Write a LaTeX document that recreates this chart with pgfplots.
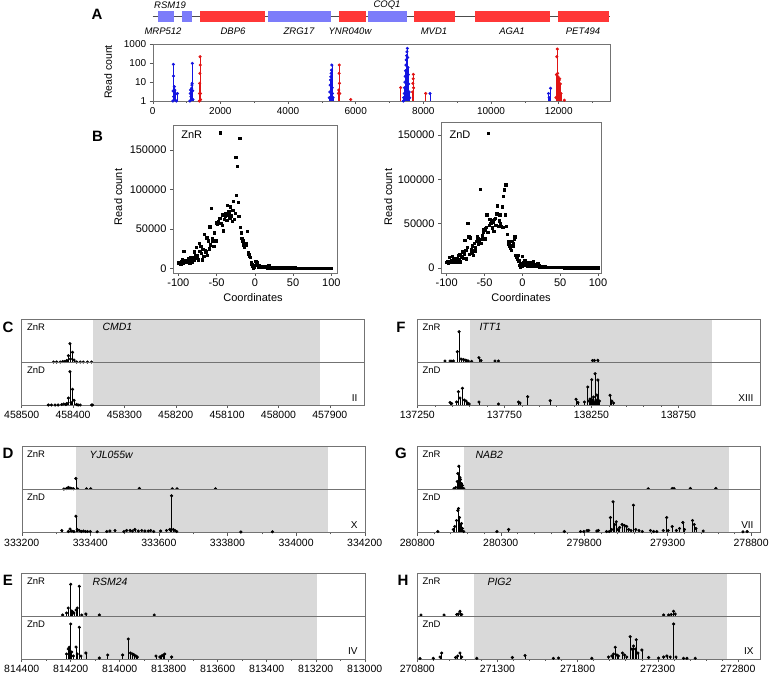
\documentclass[border=0pt]{standalone}
\usepackage{fontspec}
\setmainfont{Liberation Sans}
\usepackage{pgfplots}
\usepackage{pgfplotstable}
\pgfplotsset{compat=1.18}
\definecolor{gblue}{RGB}{124,124,250}
\definecolor{gred}{RGB}{255,55,55}
\definecolor{dblue}{RGB}{20,20,225}
\definecolor{dred}{RGB}{225,20,20}
\definecolor{shadegray}{RGB}{217,217,217}
\newcommand\fs[1]{\fontsize{#1}{#1}\selectfont}
\pgfplotsset{
  base/.style={scale only axis, anchor=north west, axis line style={black!55},
    tick style={black!65, line width=0.4pt}, tick align=outside,
    /pgf/number format/1000 sep={}, /pgf/number format/assume math mode=true,
    scaled ticks=false, clip=false, axis on top, major tick length=3pt, minor tick length=1.8pt},
  trk/.style={base, width=343pt, height=43pt, ymin=0, ymax=43, ytick=\empty, tick label style={font=\fs{10.5}}},
  trkT/.style={trk, xtick=\empty},
  trkB/.style={trk, xtick pos=left},
  stem/.style={ycomb, black, line width=0.6pt, mark=*, mark size=1.25pt},
  shade/.style={fill=shadegray, draw=none, forget plot},
  astem/.style={ycomb, line width=0.6pt, mark=*, mark size=1.25pt},
}
\pgfplotstableread{
x y
-100 7000
-99 6500
-98 8000
-97 6000
-96 9000
-95 11000
-94 7000
-93 22000
-92 8000
-91 10000
-90 9000
-89 8000
-88 10000
-87 12000
-86 9000
-85 7000
-84 14000
-83 10000
-82 8000
-81 14000
-80 11000
-79 21000
-78 16000
-77 27000
-76 13000
-75 17000
-74 11000
-73 32000
-72 22000
-71 28000
-70 19000
-69 11000
-68 24000
-67 15000
-66 43000
-65 23000
-64 21000
-63 39000
-62 17000
-61 35000
-60 25000
-59 53000
-58 30000
-57 76000
-56 38000
-55 35000
-54 28000
-53 45000
-52 36000
-51 35000
-50 58000
-49 56000
-48 60000
-47 57000
-46 64000
-45 172000
-44 57000
-43 55000
-42 68000
-41 48000
-40 62000
-39 66000
-38 70000
-37 61000
-36 80000
-35 68000
-34 72000
-33 64000
-32 78000
-31 67000
-30 60000
-29 74000
-28 85000
-27 62000
-26 70000
-25 141000
-24 93000
-23 130000
-22 84000
-21 66000
-20 165000
-19 52000
-18 45000
-17 38000
-16 35000
-15 30000
-14 27000
-13 32000
-12 29000
-11 31000
-10 47000
-9 20000
-8 18000
-7 15000
-6 14000
-5 8000
-4 5000
-3 3000
-2 1000
-1 2000
0 4000
1 9000
2 5000
3 7000
4 3000
5 2000
6 4000
7 2000
8 3000
9 2000
10 1500
11 2000
12 1500
13 3000
14 1200
15 2000
16 1000
17 1500
18 4000
19 2000
20 1000
21 1500
22 1200
23 1000
24 1300
25 900
26 1100
27 800
28 1000
29 700
30 900
31 800
32 600
33 900
34 700
35 600
36 800
37 500
38 700
39 600
40 500
41 700
42 400
43 600
44 500
45 400
46 600
47 300
48 500
49 400
50 600
51 300
52 400
53 500
54 300
55 400
56 200
57 400
58 300
59 200
60 400
61 300
62 200
63 300
64 100
65 300
66 200
67 300
68 100
69 200
70 300
71 100
72 200
73 100
74 300
75 100
76 200
77 100
78 200
79 100
80 200
81 100
82 50
83 200
84 100
85 50
86 100
87 200
88 50
89 100
90 150
91 50
92 100
93 50
94 100
95 50
96 100
97 50
98 80
99 50
100 40
}\znr
\pgfplotstableread{
x y
-100 6000
-99 7000
-98 5000
-97 12000
-96 6000
-95 7000
-94 8000
-93 13000
-92 6000
-91 9000
-90 7000
-89 11000
-88 8000
-87 6000
-86 10000
-85 14000
-84 9000
-83 15000
-82 7000
-81 12000
-80 13000
-79 18000
-78 11000
-77 16000
-76 31000
-75 20000
-74 10000
-73 23000
-72 50000
-71 35000
-70 15000
-69 34000
-68 21000
-67 17000
-66 25000
-65 14000
-64 28000
-63 19000
-62 23000
-61 30000
-60 35000
-59 33000
-58 27000
-57 31000
-56 89000
-55 32000
-54 28000
-53 36000
-52 40000
-51 43000
-50 33000
-49 44000
-48 46000
-47 60000
-46 40000
-45 152000
-44 48000
-43 55000
-42 50000
-41 53000
-40 45000
-39 52000
-38 41000
-37 55000
-36 56000
-35 48000
-34 61000
-33 70000
-32 47000
-31 53000
-30 60000
-29 50000
-28 47000
-27 69000
-26 46000
-25 81000
-24 88000
-23 60000
-22 94000
-21 47000
-20 38000
-19 30000
-18 27000
-17 25000
-16 22000
-15 20000
-14 30000
-13 25000
-12 28000
-11 33000
-10 35000
-9 14000
-8 12000
-7 10000
-6 14000
-5 8000
-4 3000
-3 1000
-2 5000
-1 2000
0 13000
1 6000
2 4000
3 8000
4 3000
5 5000
6 2000
7 6000
8 4000
9 2000
10 6000
11 3000
12 5000
13 2000
14 7000
15 3000
16 2000
17 4000
18 1500
19 3000
20 5000
21 1500
22 2500
23 1000
24 2000
25 900
26 1500
27 800
28 1200
29 700
30 1000
31 800
32 600
33 900
34 700
35 600
36 800
37 500
38 700
39 600
40 500
41 700
42 400
43 600
44 500
45 400
46 600
47 300
48 500
49 400
50 600
51 300
52 400
53 500
54 300
55 400
56 200
57 400
58 300
59 200
60 400
61 300
62 200
63 300
64 100
65 300
66 200
67 300
68 100
69 200
70 300
71 100
72 200
73 100
74 300
75 100
76 200
77 100
78 200
79 100
80 200
81 100
82 50
83 200
84 100
85 50
86 100
87 200
88 50
89 100
90 150
91 50
92 100
93 50
94 100
95 50
96 100
97 50
98 80
99 50
100 40
}\znd
\begin{document}
\begin{tikzpicture}
\useasboundingbox (0pt,0pt) rectangle (770pt,-674pt);
% ---------------- Panel A: gene track
\begin{axis}[base, hide axis, at={(152.7pt,-11pt)}, width=457.3pt, height=11.3pt, xmin=0, xmax=13517, ymin=0, ymax=1]
\addplot[black!70, line width=0.5pt] coordinates {(0,0.5) (13517,0.5)};
\addplot[fill=gblue, draw=none] coordinates {(166,0) (166,1) (631,1) (631,0)};
\addplot[fill=gblue, draw=none] coordinates {(857,0) (857,1) (1153,1) (1153,0)};
\addplot[fill=gred, draw=none] coordinates {(1398,0) (1398,1) (3320,1) (3320,0)};
\addplot[fill=gblue, draw=none] coordinates {(3417,0) (3417,1) (5270,1) (5270,0)};
\addplot[fill=gred, draw=none] coordinates {(5516,0) (5516,1) (6296,1) (6296,0)};
\addplot[fill=gblue, draw=none] coordinates {(6373,0) (6373,1) (7508,1) (7508,0)};
\addplot[fill=gred, draw=none] coordinates {(7724,0) (7724,1) (8936,1) (8936,0)};
\addplot[fill=gred, draw=none] coordinates {(9527,0) (9527,1) (11744,1) (11744,0)};
\addplot[fill=gred, draw=none] coordinates {(11972,0) (11972,1) (13488,1) (13488,0)};
\end{axis}
\begin{scope}[font=\fs{9.5}\itshape]
\node at (170pt,-5pt) {RSM19};
\node at (387pt,-5pt) {COQ1};
\node at (163pt,-31pt) {MRP512};
\node at (233pt,-31pt) {DBP6};
\node at (299pt,-31pt) {ZRG17};
\node at (350pt,-31pt) {YNR040w};
\node at (434pt,-31pt) {MVD1};
\node at (512pt,-31pt) {AGA1};
\node at (583pt,-31pt) {PET494};
\end{scope}
% ---------------- Panel A: read counts
\begin{axis}[base, at={(152.7pt,-44.3pt)}, width=457.3pt, height=56.7pt, xmin=0, xmax=13517,
  ymode=log, ymin=1, ymax=1000, xtick={0,2000,4000,6000,8000,10000,12000},
  xticklabels={0,2000,4000,6000,8000,10000,12000},
  minor xtick={1000,3000,5000,7000,9000,11000,13000}, ytick={1,10,100,1000}, yticklabels={1,10,100,1000},
  yminorticks=false, tick label style={font=\fs{10}}, xtick pos=left, ytick pos=left]
\addplot[astem, dblue] coordinates {(595,1) (603,3.4) (611,87) (615,21) (620,1.7) (640,5.7) (655,3.8) (665,2.2) (700,1) (729,2.5)};
\addplot[astem, dblue] coordinates {(1100,1) (1110,2.5) (1120,3.8) (1130,1.7) (1150,4.7) (1160,7) (1165,8.6) (1172,98) (1180,3.5) (1190,1.2)};
\addplot[astem, dred] coordinates {(1380,1) (1385,2.5) (1390,8.6) (1395,29) (1400,220) (1405,80) (1410,2.5) (1415,1.2)};
\addplot[astem, dblue] coordinates {(5220,1.5) (5235,3) (5245,7) (5255,13) (5265,19) (5275,29) (5285,43) (5295,80) (5305,5) (5315,2.5) (5330,1.5)};
\addplot[astem, dred] coordinates {(5490,2.5) (5500,3.8) (5510,29) (5515,80) (5520,8.6) (5530,2.5) (5852,1.2) (7330,5.1)};
\addplot[astem, dblue] coordinates {(7410,1) (7420,1.5) (7435,2.5) (7445,5) (7455,10) (7465,20) (7475,40) (7485,80) (7495,150) (7505,250) (7515,400) (7527,610) (7535,200) (7545,60) (7555,25) (7565,8) (7580,3) (7595,1.5)};
\addplot[astem, dred] coordinates {(7680,3) (7690,8.6) (7700,15) (7704,25.6) (7710,5) (8069,2.5)};
\addplot[astem, dblue] coordinates {(8197,2.5) (11700,2.5) (11720,1.5) (11760,4.7)};
\addplot[astem, dred] coordinates {(11920,1.5) (11935,25) (11945,220) (11960,560) (11970,29) (11980,19) (11995,15) (12010,12) (12030,15) (12050,8) (12070,2.5) (12167,1.1)};
\end{axis}
\node[rotate=90, font=\fs{10.5}] at (108pt,-72pt) {Read count};
% ---------------- Panel B
\begin{axis}[base, at={(173pt,-125pt)}, width=163.7pt, height=147.7pt, xmin=-107, xmax=107, ymin=-5600, ymax=182000,
  xtick={-100,-50,0,50,100}, xticklabels={-100,-50,0,50,100},
  ytick={0,50000,100000,150000}, yticklabels={0,50000,100000,150000},
  tick label style={font=\fs{11}}, xtick pos=left, ytick pos=left]
\addplot[only marks, mark=square*, mark size=1.2pt, black] table[x=x,y=y] {\znr};
\end{axis}
\begin{axis}[base, at={(441pt,-121.7pt)}, width=159.7pt, height=151pt, xmin=-107.5, xmax=103.5, ymin=-5650, ymax=165000,
  xtick={-100,-50,0,50,100}, xticklabels={-100,-50,0,50,100},
  ytick={0,50000,100000,150000}, yticklabels={0,50000,100000,150000},
  tick label style={font=\fs{11}}, xtick pos=left, ytick pos=left]
\addplot[only marks, mark=square*, mark size=1.2pt, black] table[x=x,y=y] {\znd};
\end{axis}
\begin{scope}[font=\fs{11}]
\node[rotate=90] at (118.3pt,-197pt) {Read count};
\node[rotate=90] at (388.3pt,-197pt) {Read count};
\node at (253pt,-298pt) {Coordinates};
\node at (521pt,-298pt) {Coordinates};
\node at (191.7pt,-135pt) {ZnR};
\node at (460pt,-135pt) {ZnD};
\end{scope}
% ---------------- Panel C
\begin{axis}[trkT, at={(21.7pt,-319pt)}, xmin=457832, xmax=458500, x dir=reverse]
\addplot[shade] coordinates {(458361,0) (458361,43) (457920,43) (457920,0)};
\addplot[stem] coordinates {(458438,0) (458432,0) (458425,0) (458420,0.5) (458416,0.5) (458412,1.5) (458409,6.3) (458406,18.3) (458405,3) (458401,9.7) (458398,2) (458393,0) (458386,0) (458380,0) (458372,0) (458364,0)};
\end{axis}
\begin{axis}[trkB, at={(21.7pt,-362pt)}, xmin=457832, xmax=458500, x dir=reverse, xtick={457900,458000,458100,458200,458300,458400,458500}, xticklabels={457900,458000,458100,458200,458300,458400,458500}]
\addplot[shade] coordinates {(458361,0) (458361,43) (457920,43) (457920,0)};
\addplot[stem] coordinates {(458448,0) (458442,0) (458435,0) (458429,0) (458422,0.5) (458418,1) (458414,0.5) (458412,1.5) (458409,7) (458406,33.3) (458404,2.5) (458401,15.7) (458398,4.7) (458393,0.5) (458390,0) (458386,0) (458364,0) (458362,0)};
\end{axis}
% ---------------- Panel D
\begin{axis}[trkT, at={(21.7pt,-446.5pt)}, xmin=333200, xmax=334200]
\addplot[shade] coordinates {(333358,0) (333358,43) (334093,43) (334093,0)};
\addplot[stem] coordinates {(333323,0.5) (333331,1) (333336,2) (333341,1.5) (333346,1) (333351,0.7) (333358,11) (333363,0.5) (333389,0.7) (333401,0.7) (333543,1) (333639,0.7) (333653,0.7) (333765,0.7)};
\end{axis}
\begin{axis}[trkB, at={(21.7pt,-489.5pt)}, xmin=333200, xmax=334200, xtick={333200,333400,333600,333800,334000,334200}, xticklabels={333200,333400,333600,333800,334000,334200}, minor x tick num=1]
\addplot[shade] coordinates {(333358,0) (333358,43) (334093,43) (334093,0)};
\addplot[stem] coordinates {(333317,2) (333336,1) (333341,3.5) (333346,1.5) (333352,1) (333358,16.3) (333362,3) (333368,2) (333374,1) (333380,1.5) (333386,1) (333392,1) (333400,1) (333420,0.7) (333448,1) (333457,1.5) (333472,2) (333498,1) (333506,2) (333516,2) (333523,1.5) (333530,3) (333540,1.5) (333550,2) (333559,1.5) (333569,1.5) (333576,2) (333585,1) (333605,1.5) (333622,2) (333632,3) (333637,36.7) (333642,3) (333647,2) (333652,1) (333839,0.5) (333931,0.7)};
\end{axis}
% ---------------- Panel E
\begin{axis}[trkT, at={(21.7pt,-573pt)}, xmin=813000, xmax=814400, x dir=reverse]
\addplot[shade] coordinates {(814151,0) (814151,43) (813194,43) (813194,0)};
\addplot[stem] coordinates {(814233,1) (814217,3) (814210,8) (814200,31.7) (814196,5) (814192,4) (814187,3) (814178,6) (814173,8) (814165,29.7) (814155,1) (814138,2) (814083,1) (813859,1)};
\end{axis}
\begin{axis}[trkB, at={(21.7pt,-616pt)}, xmin=813000, xmax=814400, x dir=reverse, xtick={813000,813200,813400,813600,813800,814000,814200,814400}, xticklabels={813000,813200,813400,813600,813800,814000,814200,814400}, minor x tick num=1]
\addplot[shade] coordinates {(814151,0) (814151,43) (813194,43) (813194,0)};
\addplot[stem] coordinates {(814217,5) (814210,10) (814206,11.7) (814200,35) (814196,7) (814189,3) (814178,12) (814173,5) (814165,31.7) (814158,3) (814138,6) (814083,1) (814049,4) (813988,4) (813965,20) (813956,6) (813947,5) (813941,4) (813934,3) (813928,2) (813852,3) (813836,2) (813829,3) (813822,4) (813816,5) (813788,2)};
\end{axis}
% ---------------- Panel F
\begin{axis}[trkT, at={(417.3pt,-319pt)}, xmin=137250, xmax=139220]
\addplot[shade] coordinates {(137555,0) (137555,43) (138940,43) (138940,0)};
\addplot[stem] coordinates {(137409,1) (137438,1) (137447,0.7) (137457,1) (137480,10.3) (137490,30.3) (137501,3) (137514,2.5) (137524,2) (137534,1.5) (137543,1) (137562,0.7) (137604,4.3) (137616,1.5) (137696,1) (137716,1) (138256,1.5) (138267,1.5) (138287,1.7)};
\end{axis}
\begin{axis}[trkB, at={(417.3pt,-362pt)}, xmin=137250, xmax=139220, xtick={137250,137750,138250,138750}, xticklabels={137250,137750,138250,138750}, minor x tick num=4]
\addplot[shade] coordinates {(137555,0) (137555,43) (138940,43) (138940,0)};
\addplot[stem] coordinates {(137438,2.5) (137447,1.5) (137476,3) (137486,13.3) (137495,7) (137509,16.7) (137520,5) (137530,4) (137539,2) (137548,1) (137604,3) (137716,1) (137831,3) (137840,2) (137884,8.3) (138013,4.3) (138162,5.7) (138172,2.5) (138210,3) (138229,18) (138236,4) (138242,6) (138247,3) (138252,25.3) (138257,5) (138262,8) (138266,3) (138271,31.3) (138276,5) (138281,10) (138287,25) (138292,3) (138296,4) (138357,9.7) (138367,4) (138377,2)};
\end{axis}
% ---------------- Panel G
\begin{axis}[trkT, at={(417.3pt,-446.5pt)}, xmin=278745, xmax=280800, x dir=reverse]
\addplot[shade] coordinates {(280522,0) (280522,43) (278935,43) (278935,0)};
\addplot[stem] coordinates {(280580,1) (280570,2) (280561,8) (280557,16) (280551,23.3) (280545,12) (280541,10) (280535,6) (280530,4) (280522,1) (279417,0.7) (279273,1) (279262,1) (279164,1) (279011,1)};
\end{axis}
\begin{axis}[trkB, at={(417.3pt,-489.5pt)}, xmin=278745, xmax=280800, x dir=reverse, xtick={278800,279300,279800,280300,280800}, xticklabels={278800,279300,279800,280300,280800}, minor x tick num=4]
\addplot[shade] coordinates {(280522,0) (280522,43) (278935,43) (278935,0)};
\addplot[stem] coordinates {(280677,1) (280584,3) (280576,6) (280565,12) (280557,22) (280553,24) (280547,15) (280541,8) (280535,9) (280530,4) (280522,1) (280323,1) (280253,3) (279919,1) (279822,1) (279802,1) (279783,2) (279773,2) (279724,1.5) (279715,2) (279666,1) (279650,1) (279643,15) (279635,3) (279627,30.7) (279617,8) (279608,10.7) (279598,3) (279588,5) (279573,8) (279559,7) (279546,6) (279534,3) (279520,2) (279505,27.3) (279491,3) (279472,2) (279452,1) (279403,2) (279384,1) (279365,1) (279326,2) (279306,15) (279297,2) (279273,6) (279248,2) (279229,4) (279209,10) (279199,3) (279151,12) (279141,8) (279131,4) (279087,1.5) (278849,0.7) (278824,1)};
\end{axis}
% ---------------- Panel H
\begin{axis}[trkT, at={(417.3pt,-573pt)}, xmin=270800, xmax=272940]
\addplot[shade] coordinates {(271156,0) (271156,43) (272733,43) (272733,0)};
\addplot[stem] coordinates {(270823,1) (270967,1) (271046,1.5) (271056,2) (271066,4.7) (271077,1.5) (272337,1) (272368,1) (272384,1.5) (272399,4.7) (272409,2)};
\end{axis}
\begin{axis}[trkB, at={(417.3pt,-616pt)}, xmin=270800, xmax=272940, xtick={270800,271300,271800,272300,272800}, xticklabels={270800,271300,271800,272300,272800}, minor x tick num=4]
\addplot[shade] coordinates {(271156,0) (271156,43) (272733,43) (272733,0)};
\addplot[stem] coordinates {(270817,0.5) (270900,0.7) (270942,2) (270952,6) (271039,1.5) (271052,3) (271066,6) (271077,2) (271171,0.7) (271393,1.5) (271472,3.5) (271649,0.7) (271681,1) (271889,0.7) (271993,2) (272014,3) (272024,5) (272035,11.7) (272045,4) (272055,3) (272080,6) (272093,4) (272107,2) (272128,22.3) (272139,10) (272149,13) (272160,10) (272166,19.3) (272176,6) (272201,9) (272243,1.5) (272305,1) (272337,2) (272357,3) (272378,2) (272399,35) (272414,2) (272461,0.7) (272482,0.7) (272534,0.7)};
\end{axis}
% ---------------- texts
\begin{scope}[font=\fs{15}\bfseries]
\node at (97pt,-14pt) {A};
\node at (97.5pt,-136pt) {B};
\node at (8pt,-327pt) {C};
\node at (8pt,-453pt) {D};
\node at (8pt,-580pt) {E};
\node at (401pt,-327pt) {F};
\node at (401pt,-453pt) {G};
\node at (403pt,-580pt) {H};
\end{scope}
\begin{scope}[font=\fs{9.5}]
\node[anchor=west] at (23.5pt,-327pt) {ZnR};
\node[anchor=west] at (23.5pt,-370pt) {ZnD};
\node[anchor=west] at (23.5pt,-454.5pt) {ZnR};
\node[anchor=west] at (23.5pt,-497.5pt) {ZnD};
\node[anchor=west] at (23.5pt,-581pt) {ZnR};
\node[anchor=west] at (23.5pt,-624pt) {ZnD};
\node[anchor=west] at (419pt,-327pt) {ZnR};
\node[anchor=west] at (419pt,-370pt) {ZnD};
\node[anchor=west] at (419pt,-454.5pt) {ZnR};
\node[anchor=west] at (419pt,-497.5pt) {ZnD};
\node[anchor=west] at (419pt,-581pt) {ZnR};
\node[anchor=west] at (419pt,-624pt) {ZnD};
\end{scope}
\begin{scope}[font=\fs{10.5}\itshape]
\node[anchor=west] at (99pt,-327pt) {CMD1};
\node[anchor=west] at (86pt,-455pt) {YJL055w};
\node[anchor=west] at (89pt,-582pt) {RSM24};
\node[anchor=west] at (476pt,-327pt) {ITT1};
\node[anchor=west] at (472pt,-455pt) {NAB2};
\node[anchor=west] at (484pt,-582pt) {PIG2};
\end{scope}
\begin{scope}[font=\fs{10}]
\node[anchor=east] at (361pt,-398pt) {II};
\node[anchor=east] at (757pt,-398pt) {XIII};
\node[anchor=east] at (361pt,-525pt) {X};
\node[anchor=east] at (757pt,-525pt) {VII};
\node[anchor=east] at (361pt,-651pt) {IV};
\node[anchor=east] at (757pt,-651pt) {IX};
\end{scope}
\end{tikzpicture}
\end{document}
